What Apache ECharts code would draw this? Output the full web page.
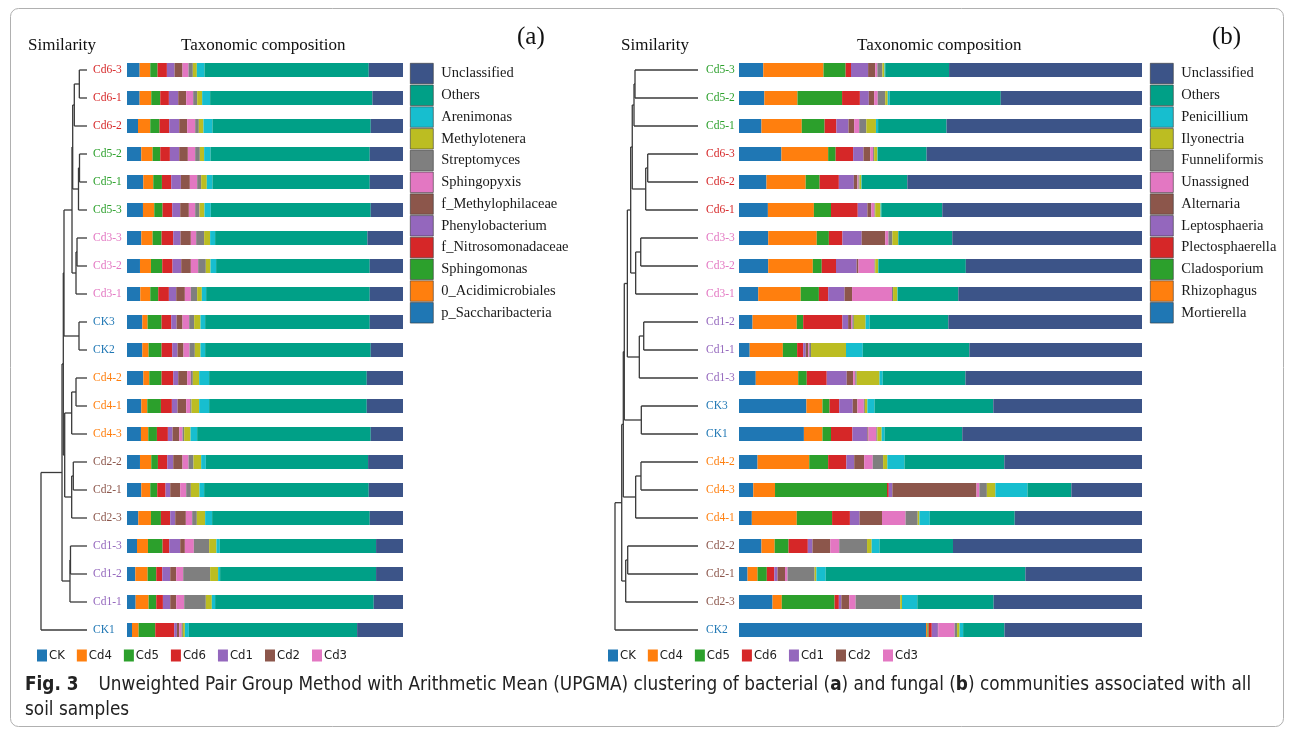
<!DOCTYPE html>
<html>
<head>
<meta charset="utf-8">
<script src="https://cdn.jsdelivr.net/npm/echarts@6/dist/echarts.min.js"></script>
<style>
  html, body { margin: 0; padding: 0; background: #fff; }
  #fig { width: 1295px; height: 730px; }
</style>
</head>
<body>
<div id="fig"></div>
<script>
// ---- data (a) bacteria ----
const samplesA = ['Cd6-3', 'Cd6-1', 'Cd6-2', 'Cd5-2', 'Cd5-1', 'Cd5-3', 'Cd3-3', 'Cd3-2', 'Cd3-1', 'CK3', 'CK2',
  'Cd4-2', 'Cd4-1', 'Cd4-3', 'Cd2-2', 'Cd2-1', 'Cd2-3', 'Cd1-3', 'Cd1-2', 'Cd1-1', 'CK1']
const taxaA = ['p_Saccharibacteria', '0_Acidimicrobiales', 'Sphingomonas', 'f_Nitrosomonadaceae', 'Phenylobacterium',
  'f_Methylophilaceae', 'Sphingopyxis', 'Streptomyces', 'Methylotenera', 'Arenimonas', 'Others', 'Unclassified']
// relative abundance per sample (normalised below)
const abundA = [
  [38, 32, 22, 28, 23, 24, 18, 13, 12, 23, 494, 103],
  [38, 35, 27, 26, 28, 24, 21, 12, 15, 24, 488, 92],
  [33, 37, 28, 29, 30, 24, 24, 11, 14, 27, 476, 97],
  [43, 34, 23, 29, 28, 26, 22, 14, 13, 19, 479, 100],
  [49, 30, 26, 28, 29, 27, 22, 12, 17, 17, 473, 100],
  [48, 34, 25, 29, 24, 26, 19, 13, 15, 19, 481, 97],
  [43, 34, 27, 35, 22, 31, 16, 24, 18, 15, 458, 107],
  [39, 33, 34, 31, 26, 29, 22, 23, 14, 17, 462, 100],
  [40, 30, 24, 32, 22, 26, 18, 19, 14, 13, 492, 100],
  [46, 16, 42, 29, 16, 18, 20, 15, 19, 14, 495, 100],
  [46, 19, 39, 32, 16, 18, 18, 16, 17, 14, 498, 97],
  [49, 18, 37, 35, 15, 27, 11, 6, 19, 30, 474, 109],
  [43, 18, 41, 33, 17, 26, 12, 4, 23, 30, 474, 109],
  [42, 22, 26, 33, 14, 20, 10, 5, 19, 20, 522, 97],
  [39, 34, 20, 28, 18, 28, 18, 15, 23, 14, 488, 105],
  [43, 27, 21, 25, 14, 30, 18, 14, 26, 14, 495, 103],
  [34, 38, 30, 28, 15, 32, 19, 14, 25, 21, 474, 100],
  [30, 33, 44, 20, 33, 14, 27, 46, 22, 10, 470, 81],
  [25, 37, 26, 18, 24, 18, 21, 81, 24, 6, 469, 81],
  [26, 39, 23, 20, 22, 18, 24, 65, 18, 10, 477, 88],
  [15, 20, 50, 57, 8, 7, 7, 4, 6, 12, 506, 138]
]
// UPGMA merges: [child, child, height]; leaves are 0..20, new nodes numbered from 21
const treeA = [
  [0, 1, 0.167], [21, 2, 0.276], [3, 4, 0.163], [23, 5, 0.185], [22, 24, 0.311],
  [6, 7, 0.217], [26, 8, 0.239], [25, 27, 0.326], [9, 10, 0.174], [28, 29, 0.5],
  [11, 12, 0.239], [31, 13, 0.333], [14, 15, 0.298], [33, 16, 0.333], [32, 34, 0.485],
  [30, 35, 0.515], [17, 18, 0.359], [37, 19, 0.37], [36, 38, 0.543], [39, 20, 1.0]
]

// ---- data (b) fungi ----
const samplesB = ['Cd5-3', 'Cd5-2', 'Cd5-1', 'Cd6-3', 'Cd6-2', 'Cd6-1', 'Cd3-3', 'Cd3-2', 'Cd3-1', 'Cd1-2', 'Cd1-1',
  'Cd1-3', 'CK3', 'CK1', 'Cd4-2', 'Cd4-3', 'Cd4-1', 'Cd2-2', 'Cd2-1', 'Cd2-3', 'CK2']
const taxaB = ['Mortierella', 'Rhizophagus', 'Cladosporium', 'Plectosphaerella', 'Leptosphaeria', 'Alternaria',
  'Unassigned', 'Funneliformis', 'Ilyonectria', 'Penicillium', 'Others', 'Unclassified']
const abundB = [
  [68, 169, 62, 15, 48, 20, 6, 14, 6, 2, 179, 541],
  [71, 93, 125, 50, 25, 15, 10, 21, 7, 5, 312, 396],
  [63, 113, 64, 33, 34, 16, 14, 20, 27, 6, 192, 548],
  [119, 131, 21, 49, 29, 19, 8, 3, 9, 1, 137, 604],
  [77, 110, 39, 54, 42, 10, 3, 3, 5, 1, 128, 658],
  [81, 129, 48, 75, 27, 11, 9, 2, 15, 2, 171, 560],
  [82, 136, 34, 38, 54, 66, 9, 11, 16, 1, 151, 532],
  [82, 125, 25, 40, 58, 5, 45, 2, 8, 1, 245, 494],
  [54, 119, 51, 26, 46, 21, 112, 3, 12, 1, 170, 515],
  [38, 124, 18, 110, 16, 8, 4, 4, 33, 11, 221, 543],
  [30, 93, 40, 17, 7, 7, 3, 5, 98, 47, 299, 484],
  [47, 119, 24, 56, 56, 18, 6, 4, 64, 9, 232, 495],
  [189, 45, 20, 27, 38, 13, 18, 3, 7, 20, 333, 417],
  [182, 52, 24, 60, 42, 3, 22, 3, 12, 8, 218, 504],
  [52, 145, 53, 51, 22, 28, 24, 29, 12, 48, 280, 386],
  [40, 61, 314, 5, 10, 236, 8, 21, 24, 90, 123, 198],
  [36, 126, 99, 50, 27, 63, 66, 34, 5, 29, 238, 357],
  [63, 37, 39, 54, 13, 50, 25, 78, 13, 22, 206, 530],
  [24, 28, 26, 21, 9, 21, 7, 76, 5, 26, 560, 327],
  [94, 26, 148, 12, 7, 22, 18, 125, 5, 43, 214, 416],
  [525, 4, 3, 9, 17, 1, 46, 7, 7, 10, 116, 386]
]
const treeB = [
  [0, 1, 0.759], [21, 2, 0.771], [3, 4, 0.606], [23, 5, 0.63], [22, 24, 0.792],
  [6, 7, 0.69], [26, 8, 0.751], [25, 27, 0.811], [9, 10, 0.654], [29, 11, 0.707],
  [28, 30, 0.851], [12, 13, 0.683], [31, 32, 0.888], [14, 15, 0.687], [34, 16, 0.751],
  [33, 35, 0.9], [17, 18, 0.847], [37, 19, 0.871], [36, 38, 0.919], [39, 20, 1.0]
]

const groups = ['CK', 'Cd4', 'Cd5', 'Cd6', 'Cd1', 'Cd2', 'Cd3']
const groupColors = ['#1f77b4', '#ff7f0e', '#2ca02c', '#d62728', '#9467bd', '#8c564b', '#e377c2']
const taxaColors = ['#1f77b4', '#ff7f0e', '#2ca02c', '#d62728', '#9467bd', '#8c564b', '#e377c2', '#7f7f7f',
  '#bcbd22', '#17becf', '#00a087', '#3c5488']

const serif = '"Liberation Serif", "Times New Roman", serif'
const narrow = '"Liberation Sans Narrow", "DejaVu Sans Condensed", sans-serif'

// dendrogram -> line segments in (height, row) space
function treeSegments (merges, nLeaf) {
  let pos = []
  for (let i = 0; i < nLeaf; i++) pos.push([0, i])
  let segs = []
  merges.forEach(m => {
    let a = pos[m[0]], b = pos[m[1]], h = m[2]
    segs.push([a[0], a[1], h, a[1]])
    segs.push([b[0], b[1], h, b[1]])
    segs.push([h, a[1], h, b[1]])
    pos.push([h, (a[1] + b[1]) / 2])
  })
  return segs
}

function groupColor (name) {
  let g = name.match(/^(CK|Cd\d)/)[1]
  return groupColors[groups.indexOf(g)]
}

function barSeries (taxa, abund, xi, stack) {
  return taxa.map((t, k) => ({
    name: t,
    type: 'bar',
    stack: stack,
    xAxisIndex: xi,
    yAxisIndex: xi,
    barWidth: 14,
    itemStyle: { color: taxaColors[k] },
    emphasis: { disabled: true },
    data: abund.map(row => {
      let s = row.reduce((p, c) => p + c, 0)
      return row[k] / s * 100
    })
  }))
}

function dendroSeries (merges, n, xi) {
  return {
    type: 'custom',
    xAxisIndex: xi,
    yAxisIndex: xi,
    silent: true,
    encode: { x: [0, 2], y: [1, 3] },
    renderItem: (params, api) => {
      let p1 = api.coord([api.value(0), api.value(1)])
      let p2 = api.coord([api.value(2), api.value(3)])
      return {
        type: 'line',
        shape: { x1: p1[0], y1: p1[1], x2: p2[0], y2: p2[1] },
        style: { stroke: '#3a3a3a', lineWidth: 1.3 }
      }
    },
    data: treeSegments(merges, n)
  }
}

function sampleAxis (data, gi, margin) {
  return {
    type: 'category', gridIndex: gi, data: data, inverse: true,
    axisLine: { show: false }, axisTick: { show: false },
    axisLabel: {
      align: 'left', margin: margin, fontFamily: serif, fontSize: 11.5,
      color: (v) => groupColor(v)
    }
  }
}

function taxaLegend (taxa, left) {
  return {
    data: taxa.slice().reverse(),
    orient: 'vertical', left: left, top: 63, padding: 0,
    itemWidth: 23, itemHeight: 20.5, itemGap: 0.65,
    icon: 'rect',
    selectedMode: false,
    itemStyle: { borderColor: '#333', borderWidth: 0.6 },
    textStyle: { fontFamily: serif, fontSize: 14.5, color: '#1a1a1a', padding: [0, 0, 0, 3] }
  }
}

function groupLegend (left) {
  return {
    data: groups, left: left, top: 649, orient: 'horizontal', padding: 0,
    itemWidth: 10, itemHeight: 12, itemGap: 12, icon: 'rect',
    selectedMode: false,
    itemStyle: { opacity: 1 },
    textStyle: { fontFamily: narrow, fontSize: 13, color: '#222', padding: [0, 0, 0, -3] }
  }
}

function label (text, left, top, size) {
  return { text: text, left: left, top: top, padding: 0, textStyle: { fontFamily: serif, fontSize: size, fontWeight: 'normal', color: '#111' } }
}

let myChart = echarts.init(document.getElementById('fig'), null, { renderer: 'canvas' })

let opt = {
  backgroundColor: '#fff',
  animation: false,
  title: [
    label('Similarity', 28, 37, 17),
    label('Taxonomic composition', 181, 37, 17),
    label('(a)', 517, 25, 25),
    label('Similarity', 621, 37, 17),
    label('Taxonomic composition', 857, 37, 17),
    label('(b)', 1212, 25, 25),
    // caption
    {
      text: '{f|Fig. 3}Unweighted Pair Group Method with Arithmetic Mean (UPGMA) clustering of bacterial ({b|a}) and fungal ({b|b}) communities associated with all\nsoil samples',
      left: 25, top: 673, padding: 0,
      textStyle: {
        fontFamily: narrow, fontSize: 18.8, fontWeight: 'normal', color: '#222', lineHeight: 25,
        rich: {
          f: { fontFamily: narrow, fontSize: 18.8, fontWeight: 'bold', color: '#222', lineHeight: 25, padding: [0, 20, 0, 0] },
          b: { fontFamily: narrow, fontSize: 18.8, fontWeight: 'bold', color: '#222', lineHeight: 25 }
        }
      }
    }
  ],
  legend: [taxaLegend(taxaA, 410), taxaLegend(taxaB, 1150), groupLegend(37), groupLegend(608)],
  grid: [
    { left: 41, top: 56, width: 46, height: 588 },
    { left: 127, top: 56, width: 276, height: 588 },
    { left: 615, top: 56, width: 83, height: 588 },
    { left: 739, top: 56, width: 403, height: 588 }
  ],
  xAxis: [
    { type: 'value', gridIndex: 0, min: 0, max: 1, inverse: true, show: false },
    { type: 'value', gridIndex: 1, min: 0, max: 100, show: false },
    { type: 'value', gridIndex: 2, min: 0, max: 1, inverse: true, show: false },
    { type: 'value', gridIndex: 3, min: 0, max: 100, show: false }
  ],
  yAxis: [
    { type: 'value', gridIndex: 0, min: -0.5, max: 20.5, inverse: true, show: false },
    sampleAxis(samplesA, 1, 34),
    { type: 'value', gridIndex: 2, min: -0.5, max: 20.5, inverse: true, show: false },
    sampleAxis(samplesB, 3, 33)
  ],
  graphic: [
    { type: 'rect', shape: { x: 10.5, y: 8.5, width: 1273, height: 718, r: 8 }, style: { fill: 'none', stroke: '#b0b0b0', lineWidth: 1 }, silent: true }
  ],
  series: [
    dendroSeries(treeA, samplesA.length, 0),
    dendroSeries(treeB, samplesB.length, 2)
  ]
    .concat(barSeries(taxaA, abundA, 1, 'a'))
    .concat(barSeries(taxaB, abundB, 3, 'b'))
    // empty series only to feed the group legends
    .concat(groups.map((g, i) => ({ name: g, type: 'scatter', xAxisIndex: 1, yAxisIndex: 1, data: [], itemStyle: { color: groupColors[i], opacity: 1 } })))
}

myChart.setOption(opt)
</script>
</body>
</html>
